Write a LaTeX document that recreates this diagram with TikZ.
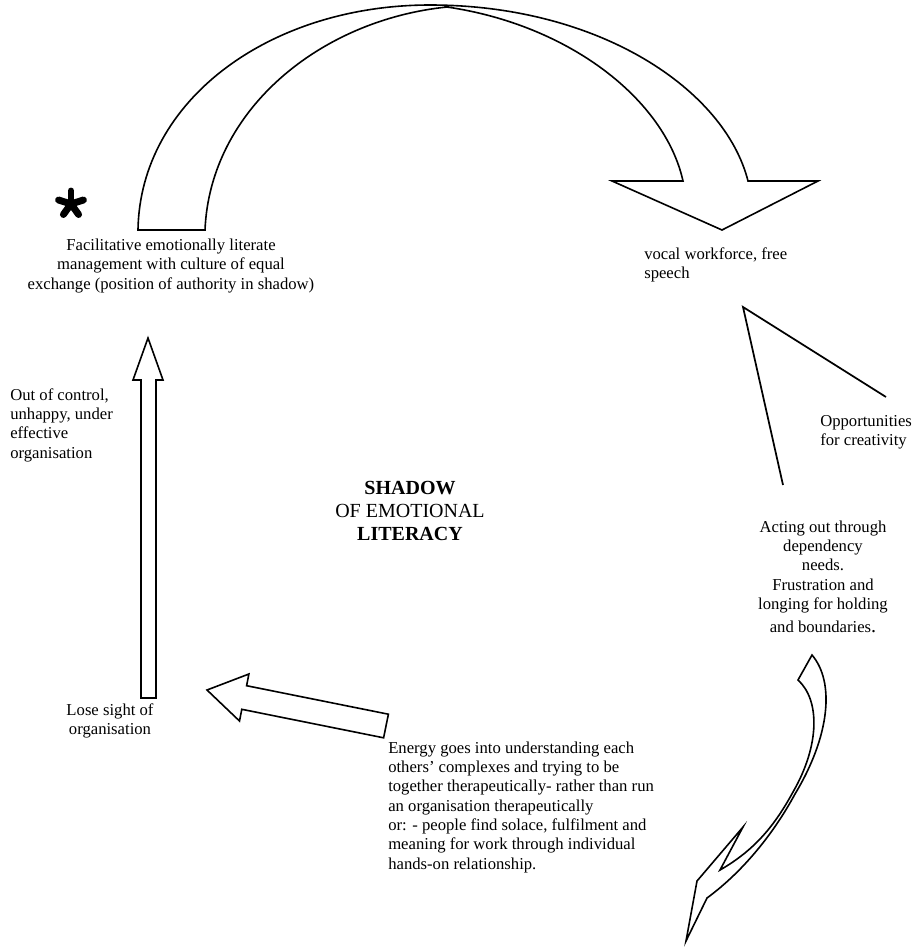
\documentclass[tikz,border=0pt]{standalone}
\usepackage{fontspec}
\setmainfont{Liberation Serif}
\usetikzlibrary{positioning}

\begin{document}
\begin{tikzpicture}[
  x=0.75pt, y=-0.75pt,
  lbl/.style={font=\fontsize{12.5}{14.5}\selectfont, inner sep=0pt, align=center},
  lblleft/.style={lbl, align=left},
  big/.style={font=\fontsize{15}{17.3}\selectfont, inner sep=0pt, align=center},
  blockarrow/.style={draw, line width=1.2pt, fill=white, line join=miter},
  thin/.style={draw, line width=1.3pt},
  starArm/.style={line width=5.2pt, line cap=round},
]
\useasboundingbox (0,0) rectangle (916,950);

% curved arrow over the top
\draw[blockarrow] (138,230) .. controls (140,100) and (270,5) .. (430,5)
  .. controls (600,5) and (725,90) .. (748,181) -- (818,181) -- (722,230)
  -- (612,181) -- (683,181) .. controls (665,100) and (570,25) .. (447,7)
  .. controls (320,20) and (210,110) .. (205,230) -- cycle;

% big asterisk
\coordinate (star) at (71,204);
\foreach \dx/\dy in {0/-13, 12.4/-4, -12.4/-4, 7.6/10.5, -7.6/10.5}
  \draw[starArm] (star) -- ++(\dx,\dy);

\node[lbl] (mgmt) at (171,266) {Facilitative emotionally literate\\management with culture of equal\\exchange (position of authority in shadow)};
\node[lblleft, anchor=west] (vocal) at (644,265) {vocal workforce, free\\speech};

% open wedge
\draw[thin] (886,397) -- (743,307) -- (783,485);
\node[lblleft, anchor=west] (creat) at (820,432) {Opportunities\\for creativity};

\node[lbl] (acting) at (823,577) {Acting out through\\dependency\\needs.\\Frustration and\\longing for holding\\[3pt]and boundaries{\fontsize{15}{15}\selectfont.}};

% twisted arrow, bottom right
\draw[blockarrow] (812,655) .. controls (835,682) and (830,736) .. (795,794)
  .. controls (775,831) and (745,870) .. (707,898) -- (686,941) -- (697,881)
  -- (743,827) -- (720,870) .. controls (755,850) and (775,825) .. (793,792)
  .. controls (820,745) and (820,700) .. (798,680) -- cycle;

\node[lblleft, anchor=west] (energy) at (388,807) {Energy goes into understanding each\\others' complexes and trying to be\\together therapeutically- rather than run\\an organisation therapeutically\\or: - people find solace, fulfilment and\\meaning for work through individual\\hands-on relationship.};

% arrow towards the left label
\draw[blockarrow] (207,690) -- (248.9,674.0) -- (246.6,685.7) -- (388.4,714.2)
  -- (383.6,737.8) -- (241.8,709.3) -- (239.5,721.0) -- cycle;

\node[lbl] (lose) at (110,721) {Lose sight of\\organisation};

% upward arrow on the left
\draw[blockarrow] (141,698) -- (141,380) -- (133,380) -- (148,338)
  -- (163,380) -- (156,380) -- (156,698) -- cycle;
\node[lblleft, anchor=west] (outof) at (10,425) {Out of control,\\unhappy, under\\effective\\organisation};

\node[big] (shadow) at (410,511) {\textbf{SHADOW}\\OF EMOTIONAL\\\textbf{LITERACY}};
\end{tikzpicture}
\end{document}
